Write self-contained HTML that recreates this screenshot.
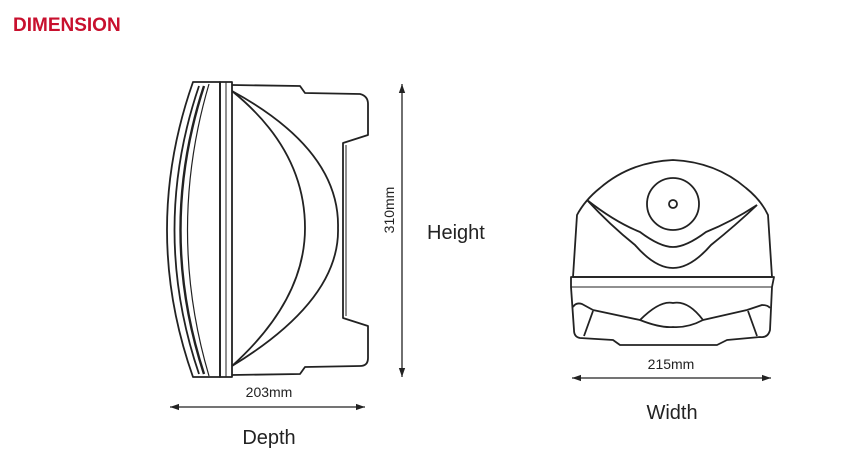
<!DOCTYPE html>
<html><head><meta charset="utf-8"><style>
html,body{margin:0;padding:0;background:#fff;}
body{width:849px;height:452px;overflow:hidden;position:relative;font-family:"Liberation Sans",sans-serif;}
</style></head><body>
<svg width="849" height="452" viewBox="0 0 849 452" xmlns="http://www.w3.org/2000/svg" style="position:absolute;left:0;top:0">
<defs>
<marker id="a" viewBox="0 0 10 10" refX="10" refY="5" markerWidth="7" markerHeight="7" orient="auto-start-reverse"><path d="M0,1.5 L10,5 L0,8.5 Z" fill="#222"/></marker>
</defs>
<text x="13" y="31" font-family="Liberation Sans, sans-serif" font-weight="bold" font-size="19" fill="#c8102e">DIMENSION</text>
<g fill="none" stroke="#222" stroke-width="1.8" stroke-linejoin="round">
<!-- side view -->
<path d="M193,82 L220,82 L220,377 L193,377 Q141,230 193,82 Z"/>
<path d="M199,86 Q150,230 199,374"/>
<path d="M204,86 Q157,230 204,374" stroke-width="2.4"/>
<path d="M209,84 Q166,230 209,376" stroke-width="1.2"/>
<rect x="220" y="82" width="12" height="295"/>
<line x1="226" y1="82" x2="226" y2="377" stroke-width="1"/>
<path d="M232,85 L300,86 L305,93 L360,94 Q368,96 368,104 L368,135 L343,143 L343,318 L368,326 L368,358 Q368,366 360,366 L305,367 L300,374 L232,375"/>
<line x1="346" y1="145" x2="346" y2="316" stroke-width="1"/>
<path d="M232,91 Q340,150 338,228 Q340,300 232,366"/>
<path d="M232,91 Q305,150 305,228 Q305,300 232,366"/>
<!-- front view -->
<path d="M573,277 L577,215 Q585,200 600,188 Q630,162 673,160 Q716,162 746,188 Q761,200 768,215 L772,277 Z"/>
<path d="M587,200 Q610,225 635,245 Q655,268 673,268 Q691,268 711,245 Q736,225 757,205"/>
<path d="M587,200 Q615,222 640,232 Q660,247 673,247 Q686,247 706,232 Q731,222 757,205"/>
<circle cx="673" cy="204" r="26"/>
<circle cx="673" cy="204" r="4"/>
<path d="M571,277 L774,277 L772,287 L770,330 Q768,338 760,337 L727,340 L717,345 L620,345 L613,340 L580,338 Q574,337 574,330 L571,287 Z"/>
<line x1="571" y1="287" x2="772" y2="287" stroke-width="1"/>
<path d="M573,307 Q576,302 582,304 L593,310 L640,320 Q660,300 673,303 Q688,300 703,320 L747,310 L762,305 Q768,305 770,308"/>
<path d="M640,320 Q660,328 673,327 Q688,328 703,320"/>
<line x1="593" y1="311" x2="584" y2="336"/>
<line x1="748" y1="311" x2="757" y2="336"/>
</g>
<g stroke="#222" stroke-width="1.3">
<line x1="402" y1="84" x2="402" y2="377" marker-start="url(#a)" marker-end="url(#a)"/>
<line x1="170" y1="407" x2="365" y2="407" marker-start="url(#a)" marker-end="url(#a)"/>
<line x1="572" y1="378" x2="771" y2="378" marker-start="url(#a)" marker-end="url(#a)"/>
</g>
<g font-family="Liberation Sans, sans-serif" fill="#222">
<text x="0" y="0" font-size="14" text-anchor="middle" transform="translate(394,210) rotate(-90)">310mm</text>
<text x="427" y="239" font-size="20">Height</text>
<text x="269" y="397" font-size="14" text-anchor="middle">203mm</text>
<text x="269" y="444" font-size="20" text-anchor="middle">Depth</text>
<text x="671" y="369" font-size="14" text-anchor="middle">215mm</text>
<text x="672" y="419" font-size="20" text-anchor="middle">Width</text>
</g>
</svg>
</body></html>
